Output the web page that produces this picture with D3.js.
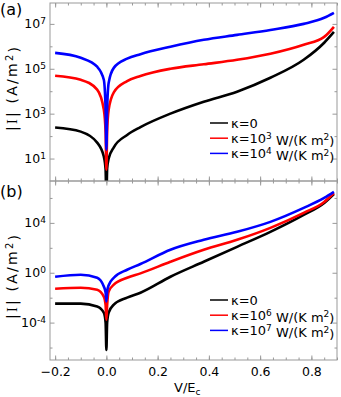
<!DOCTYPE html>
<html>
<head>
<meta charset="utf-8">
<script src="https://cdn.jsdelivr.net/npm/d3@7"></script>
<style>
  body { margin: 0; background: #fff; }
  svg { display: block; }
  text { font-family: "DejaVu Sans", sans-serif; fill: #000; }
</style>
</head>
<body>
<svg id="chart" width="341" height="397"></svg>
<script>
//Bias V/E_c where the curves were sampled (shared by all six curves)
const volts = [-0.2, -0.1, -0.036, -0.01, -0.003, 0, 0.003, 0.009, 0.029, 0.081, 0.133, 0.25, 0.38, 0.51, 0.64, 0.77, 0.85, 0.888];

//Panel (a): log10 |I| in A/m^2
const aKappa0   = [2.38, 2.2, 1.71, 1.09, 0.5, -1, 0.55, 1.0, 1.5, 2.05, 2.4, 3.0, 3.53, 3.98, 4.6, 5.4, 6.16, 6.64];
const aKappa1e3 = [4.69, 4.51, 4.07, 3.18, 2.16, 0.5, 2.2, 3.18, 3.95, 4.45, 4.68, 5.0, 5.2, 5.4, 5.67, 6.07, 6.42, 6.87];
const aKappa1e4 = [5.71, 5.49, 5.09, 4.51, 3.18, 1.4, 3.2, 4.38, 5.04, 5.45, 5.65, 5.98, 6.29, 6.51, 6.73, 7.0, 7.27, 7.49];

//Panel (b)
const bKappa0   = [-2.48, -2.48, -2.7, -3.2, -4.0, -6.2, -4.0, -3.2, -2.56, -2.0, -1.6, -0.32, 0.88, 2.08, 3.28, 4.64, 5.6, 6.32];
const bKappa1e6 = [-1.28, -1.2, -1.36, -1.92, -2.6, -3.76, -2.6, -1.5, -0.96, -0.4, -0.05, 0.88, 1.84, 2.64, 3.6, 4.8, 5.68, 6.4];
const bKappa1e7 = [-0.32, -0.16, -0.4, -1.1, -1.6, -2.3, -1.5, -1.0, -0.4, 0.24, 0.7, 1.84, 2.64, 3.28, 4.08, 5.2, 6.0, 6.48];

const aLabels = ["κ=0", "κ=10^3 W/(K m^2)", "κ=10^4 W/(K m^2)"];
const bLabels = ["κ=0", "κ=10^6 W/(K m^2)", "κ=10^7 W/(K m^2)"];
const colors = ["#000000", "#ff0000", "#0000ff"];

const xMajor = [-0.2, 0, 0.2, 0.4, 0.6, 0.8];
const xMinor = d3.range(-0.2, 0.901, 0.05).map(v => +v.toFixed(2));
const aMajorExp = [1, 3, 5, 7];
const aMinorExp = [2, 4, 6];
const bMajorExp = [-4, 0, 4];
const bMinorExp = [-6, -2, 2, 6];

const svg = d3.select("#chart");
const left = 50, right = 337;
const frameColor = "#999";

const x = d3.scaleLinear().domain([-0.22, 0.9]).range([left, right]);

const panels = [
    { label: "(a)", labelY: 14.5, top: 3, bottom: 181,
      y: d3.scaleLog().domain([1, Math.pow(10, 7.93)]).range([181, 3]),
      series: [aKappa0, aKappa1e3, aKappa1e4], names: aLabels,
      major: aMajorExp, minor: aMinorExp, legendY: 123, titleY: 89, id: "a" },
    { label: "(b)", labelY: 197, top: 181, bottom: 360,
      y: d3.scaleLog().domain([1e-7, Math.pow(10, 7.36)]).range([360, 181]),
      series: [bKappa0, bKappa1e6, bKappa1e7], names: bLabels,
      major: bMajorExp, minor: bMinorExp, legendY: 300, titleY: 277, id: "b" }
];

//Write "a^b" pieces of a label as superscript tspans
function richText(sel, str, supSize) {
    let parts = str.split(/\^(\d)/);
    parts.forEach((p, i) => {
	if (p === "") return;
	let isSup = i % 2 === 1;
	let t = sel.append("tspan").text(p);
	if (isSup) t.attr("dy", "-0.45em").attr("font-size", supSize);
	else if (i > 0) t.attr("dy", "0.45em");
    });
}

panels.forEach(p => {
    let g = svg.append("g");
    let y = p.y;

    g.append("clipPath").attr("id", "clip-" + p.id)
	.append("rect").attr("x", left).attr("y", p.top)
	.attr("width", right - left).attr("height", p.bottom - p.top);

    //Frame
    g.append("rect")
	.attr("x", left).attr("y", p.top)
	.attr("width", right - left).attr("height", p.bottom - p.top)
	.attr("fill", "none").attr("stroke", frameColor).attr("stroke-width", 1);

    //x ticks, both edges, pointing inward
    let bottomAx = d3.axisBottom(x).tickValues(xMajor).tickSize(-4.5).tickSizeOuter(0).tickPadding(7)
	.tickFormat(p.id === "b" ? (d => d3.format(".1f")(d).replace("-", "\u2212")) : "");
    let bottomMinor = d3.axisBottom(x).tickValues(xMinor).tickSize(-2.5).tickSizeOuter(0).tickFormat("");
    let topAx = d3.axisTop(x).tickValues(xMajor).tickSize(-4.5).tickSizeOuter(0).tickFormat("");
    let topMinor = d3.axisTop(x).tickValues(xMinor).tickSize(-2.5).tickSizeOuter(0).tickFormat("");

    [[bottomAx, p.bottom], [bottomMinor, p.bottom], [topAx, p.top], [topMinor, p.top]].forEach(([ax, yy]) => {
	let a = g.append("g").attr("transform", "translate(0," + yy + ")").call(ax);
	a.select(".domain").remove();
	a.selectAll("line").attr("stroke", frameColor);
	a.selectAll("text").attr("font-size", 12.5).attr("font-family", "DejaVu Sans").attr("fill", "#000");
    });

    //y ticks
    let majorVals = p.major.map(e => Math.pow(10, e));
    let minorVals = p.minor.map(e => Math.pow(10, e));
    let leftAx = d3.axisLeft(y).tickValues(majorVals).tickSize(-4.5).tickSizeOuter(0).tickFormat("");
    let leftMinor = d3.axisLeft(y).tickValues(minorVals).tickSize(-2.5).tickSizeOuter(0).tickFormat("");
    let rightAx = d3.axisRight(y).tickValues(majorVals).tickSize(-4.5).tickSizeOuter(0).tickFormat("");
    let rightMinor = d3.axisRight(y).tickValues(minorVals).tickSize(-2.5).tickSizeOuter(0).tickFormat("");

    [[leftAx, left], [leftMinor, left], [rightAx, right], [rightMinor, right]].forEach(([ax, xx]) => {
	let a = g.append("g").attr("transform", "translate(" + xx + ",0)").call(ax);
	a.select(".domain").remove();
	a.selectAll("line").attr("stroke", frameColor);
    });

    //Decade labels 10^n
    g.selectAll("text.ylab").data(p.major).enter().append("text")
	.attr("class", "ylab")
	.attr("x", left - 4).attr("y", e => y(Math.pow(10, e)) + 4.5)
	.attr("text-anchor", "end").attr("font-size", 12.5)
	.each(function(e) {
	    let t = d3.select(this);
	    t.append("tspan").text("10");
	    t.append("tspan").attr("dy", "-0.45em").attr("font-size", 9).text(String(e));
	});

    //Curves
    let line = d3.line()
	.x((d, i) => x(volts[i]))
	.y(d => y(Math.pow(10, d)))
	.curve(d3.curveMonotoneX);

    g.append("g").attr("clip-path", "url(#clip-" + p.id + ")")
	.selectAll("path").data(p.series).enter().append("path")
	.attr("d", line)
	.attr("fill", "none")
	.attr("stroke", (d, i) => colors[i])
	.attr("stroke-width", 2.6)
	.attr("stroke-linejoin", "round");

    //Legend
    let leg = g.selectAll("g.legend").data(p.names).enter().append("g")
	.attr("class", "legend")
	.attr("transform", (d, i) => "translate(210," + (p.legendY + i * 15.2) + ")");
    leg.append("line").attr("x1", 0).attr("x2", 18).attr("y1", 0).attr("y2", 0)
	.attr("stroke", (d, i) => colors[i]).attr("stroke-width", 1.5);
    leg.append("text").attr("x", 21).attr("y", 4.5).attr("font-size", 13)
	.each(function(d) { richText(d3.select(this), d, 9); });

    //Panel tag
    g.append("text").attr("x", 0).attr("y", p.labelY).attr("font-size", 16).text(p.label);

    //y title
    let title = g.append("text")
	.attr("transform", "translate(17," + p.titleY + ") rotate(-90)")
	.attr("text-anchor", "middle").attr("font-size", 14)
	.attr("textLength", 84).attr("lengthAdjust", "spacing");
    title.append("tspan").text("|");
    title.append("tspan").attr("font-family", "Liberation Serif").text("I");
    title.append("tspan").text("| (A/m");
    title.append("tspan").attr("dy", "-0.45em").attr("font-size", 10).text("2");
    title.append("tspan").attr("dy", "0.45em").text(")");
});

//x title
let xt = svg.append("text").attr("x", 174).attr("y", 392).attr("font-size", 13);
xt.append("tspan").text("V/E");
xt.append("tspan").attr("dy", "0.3em").attr("font-size", 9).text("c");
</script>
</body>
</html>
